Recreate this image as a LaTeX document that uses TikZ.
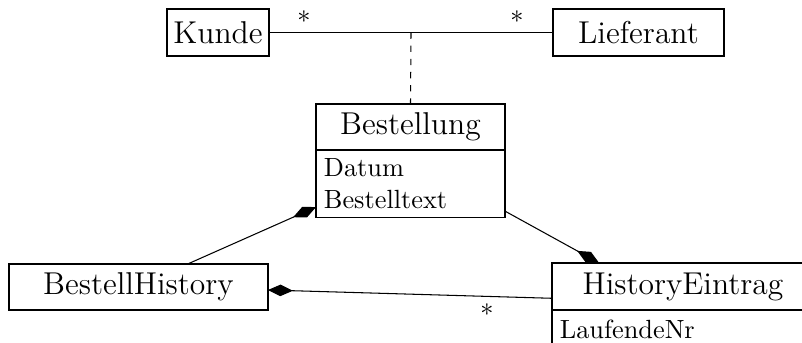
\documentclass[tikz,border=0pt]{standalone}
\usetikzlibrary{arrows.meta,calc}
\begin{document}
\begin{tikzpicture}[x=0.38pt,y=-0.38pt,
  cls/.style={draw,fill=white,font=\large,inner sep=0pt,outer sep=0pt,line width=0.45pt},
  attr/.style={draw,fill=white,inner xsep=3pt,inner ysep=2pt,outer sep=0pt,align=left,anchor=north,line width=0.45pt},
  conn/.style={line width=0.4pt},
  comp/.style={-{Diamond[length=9.5pt,width=4.4pt]}},
  mult/.style={inner sep=0pt,font=\normalsize}]
\useasboundingbox (0,0) rectangle (802,342);
\node[cls,minimum width=38.8pt,minimum height=17.9pt] (K) at (218,32.5) {Kunde};
\node[cls,minimum width=65pt,minimum height=17.9pt] (L) at (638.5,32.5) {Lieferant};
\node[cls,minimum width=71.8pt,minimum height=17.5pt] (BT) at (410.5,127) {Bestellung};
\node[attr,text width=65.8pt,minimum height=25.5pt] (BA) at (BT.south) {Datum\\Bestelltext};
\node[cls,minimum width=98.4pt,minimum height=17.5pt] (BH) at (138.5,287) {BestellHistory};
\node[cls,minimum width=99.6pt,minimum height=17.9pt] (HE) at (683,286.5) {HistoryEintrag};
\node[attr,text width=93.6pt,minimum height=15pt] (HA) at (HE.south) {LaufendeNr};

\draw[conn] (K.east) -- (L.west);
\coordinate (m) at ($(K.east)!0.5!(L.west)$);
\draw[conn,dash pattern=on 2.4pt off 2.6pt] (m) -- (BT.north);
\node[mult] (s1) at (304,21) {*};
\node[mult] (s2) at (517,21) {*};

\draw[conn,comp] ($(BH.north west)!0.69!(BH.north east)$) -- ($(BA.south west)!0.15!(BA.north west)$);
\draw[conn,comp] ($(BA.south east)!0.09!(BA.north east)$) -- ($(HE.north west)!0.18!(HE.north east)$);
\draw[conn,comp] ($(HE.west)!0.5!(HE.south west)$) -- ($(BH.east)!0.13!(BH.south east)$);
\node[mult] (s3) at (487,314) {*};
\end{tikzpicture}
\end{document}
